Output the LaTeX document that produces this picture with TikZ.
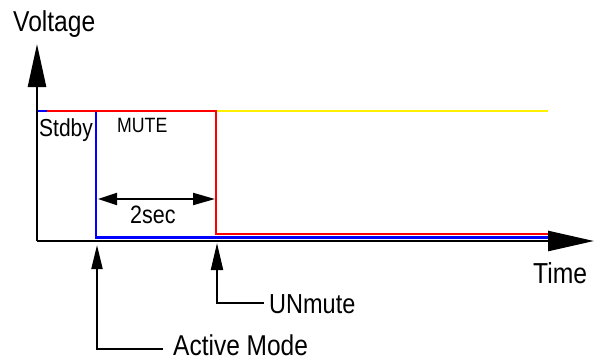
\documentclass[tikz,border=0pt]{standalone}
\usepackage{fontspec}
\setmainfont{Liberation Sans}
\usetikzlibrary{arrows.meta}
\definecolor{sigyellow}{RGB}{255,240,0}
\definecolor{sigred}{RGB}{255,0,0}
\definecolor{sigblue}{RGB}{0,0,255}
% labels are set a little taller than the font's natural shape
\newcommand{\tallTxt}[2]{{\fontsize{#1}{#1}\selectfont\scalebox{1}[1.17]{#2}}}
\tikzset{
  axis/.style={line width=2.6pt, black},
  sig/.style={line width=2.2pt},
  annot/.style={line width=2pt, black},
  lbl/.style={inner sep=0pt, anchor=base west},
}
\begin{document}
\begin{tikzpicture}[x=1pt, y=-1pt]
\useasboundingbox (0,0) rectangle (600,360);

% key points of the time axis
\coordinate (O) at (37,241);
\coordinate (ytip) at (37,44);
\coordinate (xtip) at (594,241);

% signal traces
\draw[sig, sigyellow] (37,111) -- (548,111);
\draw[sig, sigblue] (37,111) -- (96,111) -- (96,237.5) -- (548,237.5);
\draw[sig, sigred] (47,111) -- (216,111) -- (216,234) -- (548,234);

% axes
\draw[axis, -{Triangle[length=46pt, width=20pt]}] (O) -- (xtip);
\draw[axis, -{Triangle[length=43pt, width=18pt]}] (O) -- (ytip);

% axis labels
\node[lbl] (volt) at (13,31) {\tallTxt{24.6}{Voltage}};
\node[lbl] (time) at (533,283) {\tallTxt{24.7}{Time}};

% state labels
\node[lbl] (stdby) at (39,136) {\tallTxt{21}{Stdby}};
\node[lbl] (mute) at (117,132) {\tallTxt{17.7}{MUTE}};

% mute duration
\coordinate (dl) at (98,199);
\coordinate (dr) at (215,199);
\draw[annot, {Triangle[length=19pt, width=12pt]}-{Triangle[length=22pt, width=12pt]}] (dl) -- (dr);
\node[lbl] (dur) at (130,223) {\tallTxt{21.5}{2sec}};

% event markers
\node[lbl] (am) at (173,355) {\tallTxt{24.5}{Active Mode}};
\coordinate (amend) at (163,349);
\coordinate (amtip) at (97,245);
\draw[annot, -{Triangle[length=24pt, width=11pt]}] (amend) -| (amtip);

\node[lbl] (um) at (269,313) {\tallTxt{23.5}{UNmute}};
\coordinate (umend) at (264,303);
\coordinate (umtip) at (217,243);
\draw[annot, -{Triangle[length=27pt, width=12pt]}] (umend) -| (umtip);
\end{tikzpicture}
\end{document}
